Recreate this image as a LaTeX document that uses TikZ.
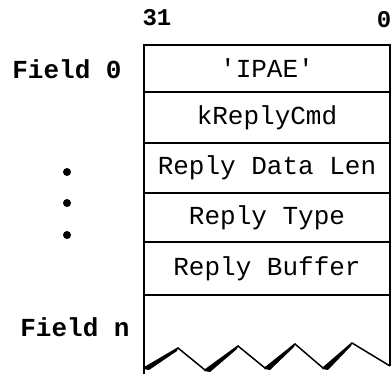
\documentclass[tikz,border=0pt]{standalone}
\usepackage{fontspec}
\setmonofont{Liberation Mono}
\usetikzlibrary{positioning}
\begin{document}
\begin{tikzpicture}[x=1pt,y=-1pt,font=\ttfamily\fontsize{26}{30}\selectfont,
		fieldbox/.style={draw,line width=2.5pt,minimum width=246pt,inner sep=0pt,outer sep=0pt},
		fieldlabel/.style={font=\ttfamily\bfseries\fontsize{26}{30}\selectfont},
		bitlabel/.style={font=\ttfamily\bfseries\fontsize{24}{28}\selectfont},
		dot/.style={circle,fill,inner sep=0pt,minimum size=8pt}]
		\useasboundingbox (0,0) rectangle (392,374);
		% bit numbers
		\node[bitlabel] (bit31) at (157,18) {31};
		\node[bitlabel] (bit0) at (384,20) {0};
		% the fields
		\node[fieldbox,minimum height=47pt,anchor=north west] (ipae) at (144,45) {'IPAE'};
		\node[fieldbox,minimum height=51pt,below=0pt of ipae] (cmd) {kReplyCmd};
		\node[fieldbox,minimum height=50pt,below=0pt of cmd] (len) {Reply Data Len};
		\node[fieldbox,minimum height=49pt,below=0pt of len] (type) {Reply Type};
		\node[fieldbox,minimum height=53pt,below=0pt of type] (buffer) {Reply Buffer};
		% open end of the last field
		\draw[line width=2.5pt] (buffer.south west) -- ++(0,79);
		\draw[line width=2.5pt] (buffer.south east) -- ++(0,71);
		\draw[line width=1.5pt] (144,368) -- (178,348) -- (205,370) -- (238,346) -- (265,368)
			-- (295,344) -- (323,368) -- (352,343) -- (390,366);
		\foreach \vx/\vy/\px/\py in {144/368/178/348,205/370/238/346,265/368/295/344,323/368/352/343}
			\fill (\vx-1,\vy+1) -- (\px,\py) -- (\px-1,\py+3) -- (\vx+5,\vy+2) -- cycle;
		% left labels
		\node[fieldlabel] (field0) at (67,69) {Field 0};
		\node[fieldlabel] (fieldn) at (75,327) {Field n};
		\foreach \y [count=\i] in {172,203,235}
			\node[dot] (dot\i) at (67,\y) {};
\end{tikzpicture}
\end{document}
